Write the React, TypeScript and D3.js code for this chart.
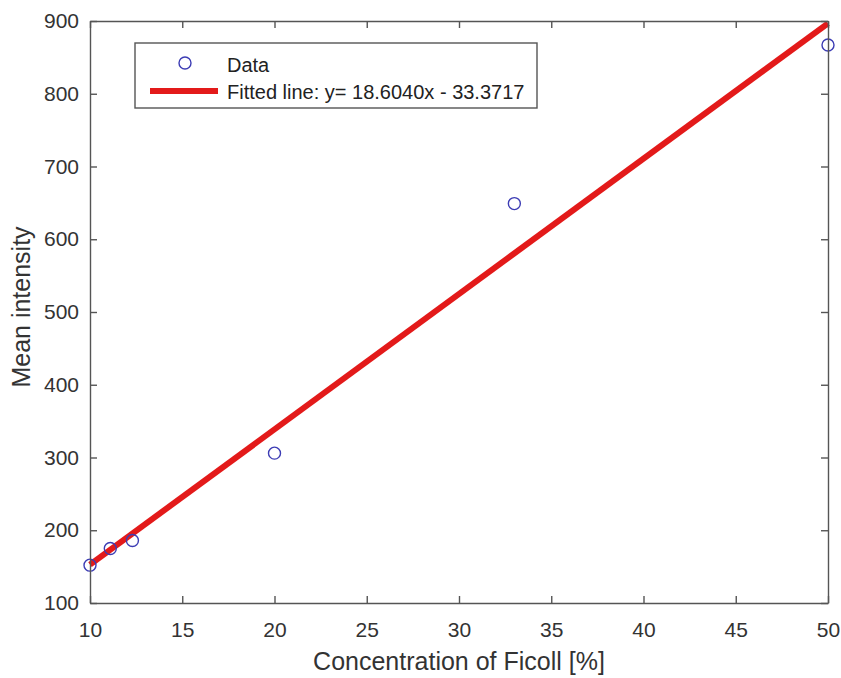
import React, { useEffect, useRef } from "react";
import * as d3 from "d3";

// concentration [%] vs mean intensity
const concentration = [10, 11.1, 12.3, 20, 33, 50];
const meanIntensity = [152, 175, 186, 306, 649, 867];
const slope = 18.604;
const intercept = -33.3717;
const xTicks = [10, 15, 20, 25, 30, 35, 40, 45, 50];
const yTicks = [100, 200, 300, 400, 500, 600, 700, 800, 900];

export default function App() {
  const ref = useRef<SVGSVGElement>(null);

  useEffect(() => {
    const svg = d3.select(ref.current);
    svg.selectAll("*").remove();

    const width = 841;
    const height = 678;
    const margin = { top: 21, right: 13, bottom: 75, left: 90 };
    const w = width - margin.left - margin.right;
    const h = height - margin.top - margin.bottom;
    const axisColor = "#555";
    const font = "Arial, 'Liberation Sans', sans-serif";

    svg.append("rect").attr("width", width).attr("height", height).attr("fill", "#fff");

    const g = svg.append("g").attr("transform", `translate(${margin.left},${margin.top})`);

    const x = d3.scaleLinear().domain([10, 50]).range([0, w]);
    const y = d3.scaleLinear().domain([100, 900]).range([h, 0]);

    // fitted line
    const fitX = [10, 50];
    g.append("path")
      .datum(fitX)
      .attr("fill", "none")
      .attr("stroke", "#e31a1a")
      .attr("stroke-width", 6)
      .attr("d", d3.line<number>().x((d) => x(d)).y((d) => y(slope * d + intercept)));

    // data circles
    g.selectAll(".pt")
      .data(concentration)
      .enter()
      .append("circle")
      .attr("cx", (d) => x(d))
      .attr("cy", (d, i) => y(meanIntensity[i]))
      .attr("r", 6)
      .attr("fill", "none")
      .attr("stroke", "#3c3cb4")
      .attr("stroke-width", 1.4);

    // axes (MATLAB style: ticks inside, box on)
    const tick = 7;
    const xAxis = d3.axisBottom(x).tickValues(xTicks).tickSizeInner(-tick).tickSizeOuter(0).tickPadding(19);
    const yAxis = d3.axisLeft(y).tickValues(yTicks).tickSizeInner(-tick).tickSizeOuter(0).tickPadding(11);

    const style = (sel: any) => {
      sel.selectAll("path, line").attr("stroke", axisColor).attr("stroke-width", 1.4);
      sel.selectAll("text").attr("fill", "#333").style("font-size", "21px").style("font-family", font);
    };

    g.append("g").attr("transform", `translate(0,${h})`).call(xAxis).call(style);
    g.append("g").call(yAxis).call(style);
    g.append("g")
      .call(d3.axisTop(x).tickValues(xTicks).tickSizeInner(-tick).tickSizeOuter(0).tickFormat(() => ""))
      .call(style);
    g.append("g")
      .attr("transform", `translate(${w},0)`)
      .call(d3.axisRight(y).tickValues(yTicks).tickSizeInner(-tick).tickSizeOuter(0).tickFormat(() => ""))
      .call(style);

    // axis labels
    svg.append("text")
      .attr("x", margin.left + w / 2)
      .attr("y", 670)
      .attr("text-anchor", "middle")
      .attr("fill", "#333")
      .style("font-family", font)
      .style("font-size", "25px")
      .text("Concentration of Ficoll [%]");

    svg.append("text")
      .attr("transform", `translate(30,${margin.top + h / 2 - 5}) rotate(-90)`)
      .attr("text-anchor", "middle")
      .attr("fill", "#333")
      .style("font-family", font)
      .style("font-size", "25px")
      .text("Mean intensity");

    // legend
    const lg = svg.append("g").attr("transform", "translate(135,43)");
    lg.append("rect")
      .attr("width", 402)
      .attr("height", 65)
      .attr("fill", "#fff")
      .attr("stroke", axisColor)
      .attr("stroke-width", 1.4);
    lg.append("circle")
      .attr("cx", 50)
      .attr("cy", 20)
      .attr("r", 6)
      .attr("fill", "none")
      .attr("stroke", "#3c3cb4")
      .attr("stroke-width", 1.4);
    lg.append("line")
      .attr("x1", 15)
      .attr("x2", 83)
      .attr("y1", 48)
      .attr("y2", 48)
      .attr("stroke", "#e31a1a")
      .attr("stroke-width", 6);
    lg.append("text")
      .attr("x", 92)
      .attr("y", 29)
      .attr("fill", "#222")
      .style("font-family", font)
      .style("font-size", "20px")
      .text("Data");
    lg.append("text")
      .attr("x", 92)
      .attr("y", 56)
      .attr("fill", "#222")
      .style("font-family", font)
      .style("font-size", "20px")
      .text(`Fitted line: y= ${slope.toFixed(4)}x - ${Math.abs(intercept).toFixed(4)}`);
  }, []);

  return (
    <svg
      ref={ref}
      width={841}
      height={678}
      style={{ position: "absolute", left: 0, top: 0, display: "block" }}
    />
  );
}
